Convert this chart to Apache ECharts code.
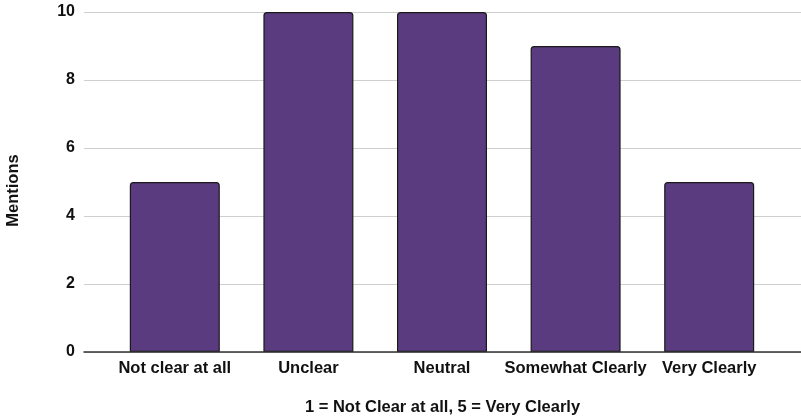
<!DOCTYPE html>
<html><head><meta charset="utf-8">
<script src="https://cdn.jsdelivr.net/npm/echarts@6/dist/echarts.min.js"></script>
<style>html,body{margin:0;padding:0;background:#fff}#c{width:801px;height:416px}</style>
</head><body><div id="c"></div>
<script>
const categories = ["Not clear at all", "Unclear", "Neutral", "Somewhat Clearly", "Very Clearly"];
const mentions = [5, 10, 10, 9, 5];
const yTitle = "Mentions";
const xTitle = "1 = Not Clear at all, 5 = Very Clearly";

const font = "'Liberation Sans', Arial, sans-serif";
const chart = echarts.init(document.getElementById('c'), null, {renderer: 'canvas'});
chart.setOption({
  animation: false,
  grid: [
    {left: 108, right: 25, top: 12, bottom: 64, containLabel: false, outerBoundsMode: 'none'},
    {left: 84, right: 0, top: 12, bottom: 64, containLabel: false, outerBoundsMode: 'none'}
  ],
  xAxis: [
    {type: 'category', gridIndex: 0, data: categories,
     axisLine: {show: false}, axisTick: {show: false},
     axisLabel: {color: '#111', fontFamily: font, fontWeight: 'bold', fontSize: 16.5, margin: 8, interval: 0}},
    {type: 'value', gridIndex: 1, min: 0, max: 1, show: true, z: 10,
     axisLine: {show: true, onZero: false, lineStyle: {color: '#333', width: 1.5}},
     axisTick: {show: false}, axisLabel: {show: false}, splitLine: {show: false},
     name: xTitle, nameLocation: 'middle', nameGap: 47,
     nameTextStyle: {color: '#111', fontFamily: font, fontWeight: 'bold', fontSize: 16.5}}
  ],
  yAxis: [
    {type: 'value', gridIndex: 0, min: 0, max: 10, interval: 2, show: false,
     splitLine: {show: false}},
    {type: 'value', gridIndex: 1, min: 0, max: 10, interval: 2,
     axisLine: {show: false}, axisTick: {show: false},
     axisLabel: {color: '#111', fontFamily: font, fontWeight: 'bold', fontSize: 16, margin: 9},
     splitLine: {lineStyle: {color: '#cfcfcf', width: 1}},
     name: yTitle, nameLocation: 'middle', nameGap: 62, nameRotate: 90,
     nameTextStyle: {color: '#111', fontFamily: font, fontWeight: 'bold', fontSize: 16.5, padding: [0, 17, 0, 0]}}
  ],
  series: [{
    type: 'bar', xAxisIndex: 0, yAxisIndex: 0, data: mentions, barWidth: 90,
    itemStyle: {color: '#5b3b7f', borderColor: '#1a1a1a', borderWidth: 1.2, borderRadius: [3, 3, 0, 0]},
    z: 3
  }]
});
</script></body></html>
